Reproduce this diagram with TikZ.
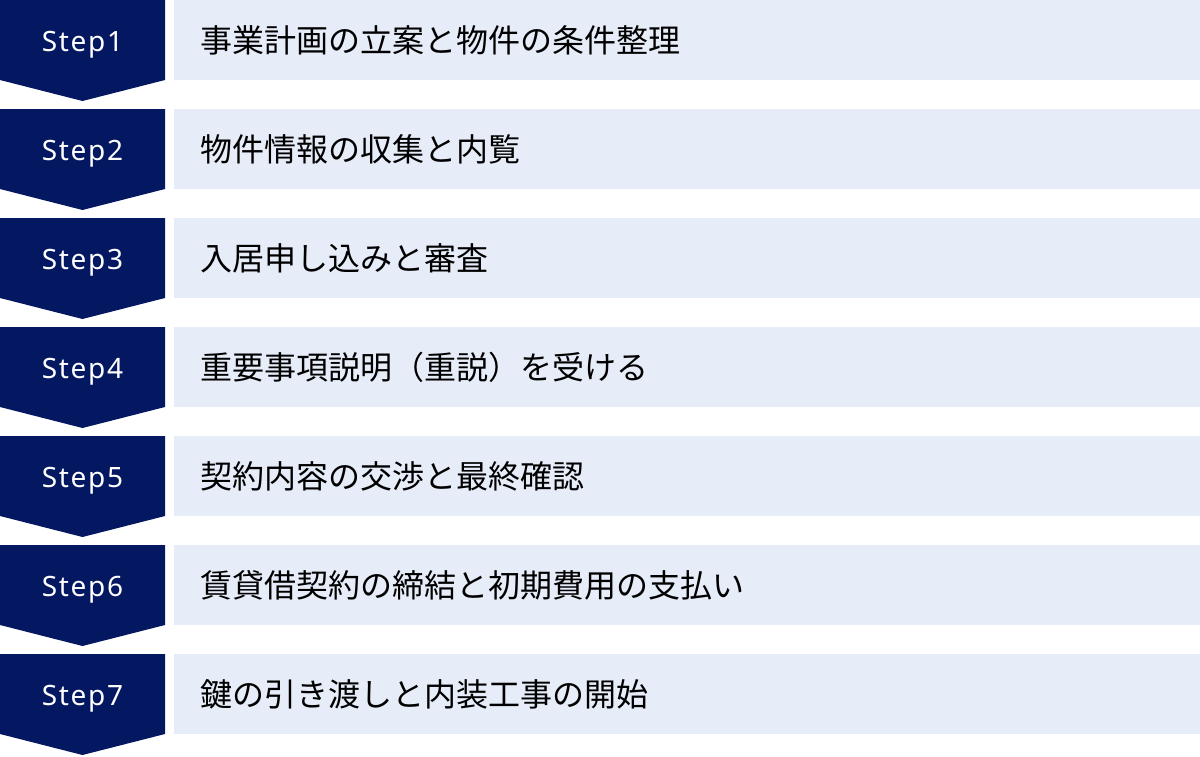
\documentclass[tikz,border=0pt]{standalone}
\usepackage{fontspec}
\setmainfont{Noto Sans CJK JP}
\newfontfamily\jpfont{Noto Sans CJK JP}
\newfontfamily\stepfont[LetterSpace=6]{Noto Sans}
\definecolor{navy}{HTML}{041862}
\definecolor{pale}{HTML}{E6ECF8}
\begin{document}
\begin{tikzpicture}[x=1pt,y=-1pt,
  chev/.style={fill=navy,draw=none},
  bar/.style={fill=pale,draw=none},
  steplabel/.style={text=white,font=\stepfont\fontsize{28}{30}\selectfont,anchor=base,inner sep=0pt},
  desc/.style={text=black,font=\jpfont\fontsize{32}{36}\selectfont,anchor=west,inner sep=0pt}]
\useasboundingbox (0,0) rectangle (1200,756);
\foreach \i/\t in {1/事業計画の立案と物件の条件整理,
                   2/物件情報の収集と内覧,
                   3/入居申し込みと審査,
                   4/重要事項説明（重説）を受ける,
                   5/契約内容の交渉と最終確認,
                   6/賃貸借契約の締結と初期費用の支払い,
                   7/鍵の引き渡しと内装工事の開始}{
  \pgfmathsetmacro{\yy}{(\i-1)*109}
  \begin{scope}[yshift=-\yy pt]
    \fill[chev] (0,0) -- (165,0) -- (165,80) -- (82.5,101) -- (0,80) -- cycle;
    \fill[bar] (174,0) rectangle (1200,80);
    \node[steplabel] (s\i) at (82.5,51.5) {Step\i};
    \node[desc] (d\i) at (200,40) {\t};
  \end{scope}
}
\end{tikzpicture}
\end{document}
